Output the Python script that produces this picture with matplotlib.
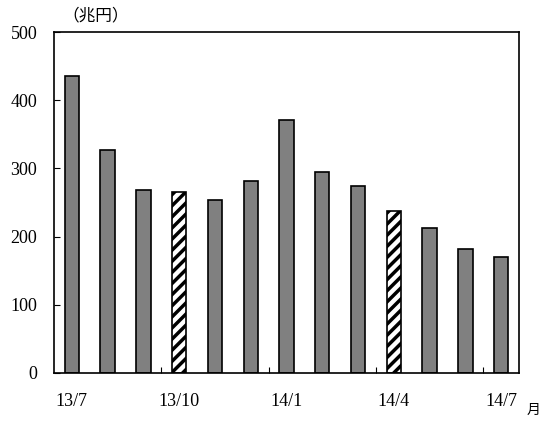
import matplotlib.pyplot as plt
import numpy as np

plt.rcParams['font.family'] = ['Liberation Serif', 'Noto Sans CJK JP']
plt.rcParams['hatch.linewidth'] = 2.5

# 月次データ（兆円）
months = ["13/7", "13/8", "13/9", "13/10", "13/11", "13/12", "14/1",
          "14/2", "14/3", "14/4", "14/5", "14/6", "14/7"]
values = [435, 327, 268, 265, 254, 281, 371, 295, 274, 238, 213, 182, 170]
hatched = [False, False, False, True, False, False, False,
           False, False, True, False, False, False]

fig = plt.figure(figsize=(5.42, 4.25), dpi=100)
ax = fig.add_axes([0.0996, 0.1224, 0.858, 0.8023])

x = np.arange(len(months))
for xi, v, h in zip(x, values, hatched):
    if h:
        ax.bar(xi, v, width=0.4, color="white", edgecolor="black",
               hatch="///", linewidth=1.2)
    else:
        ax.bar(xi, v, width=0.4, color="#808080", edgecolor="black",
               linewidth=1.2)

ax.set_xlim(-0.5, len(months) - 0.5)
ax.set_ylim(0, 500)
ax.set_yticks([0, 100, 200, 300, 400, 500])
ax.tick_params(axis="y", direction="in", length=4, labelsize=13, pad=12)

# 区切り目盛りは3か月ごと
ax.set_xticks([2.5, 5.5, 8.5, 11.5])
ax.set_xticklabels([])
ax.tick_params(axis="x", direction="in", length=4)
for i in range(0, len(months), 3):
    ax.text(i, -42, months[i], ha="center", va="center", fontsize=13,
            transform=ax.transData)

for s in ax.spines.values():
    s.set_linewidth(1.2)

fig.text(0.115, 0.962, "（兆円）", fontsize=12, ha="left", va="center",
         family=["Noto Sans CJK JP"])
fig.text(0.984, 0.035, "月", fontsize=10, ha="center", va="center",
         family=["Noto Sans CJK JP"])

fig.savefig("out.png", dpi=100)
